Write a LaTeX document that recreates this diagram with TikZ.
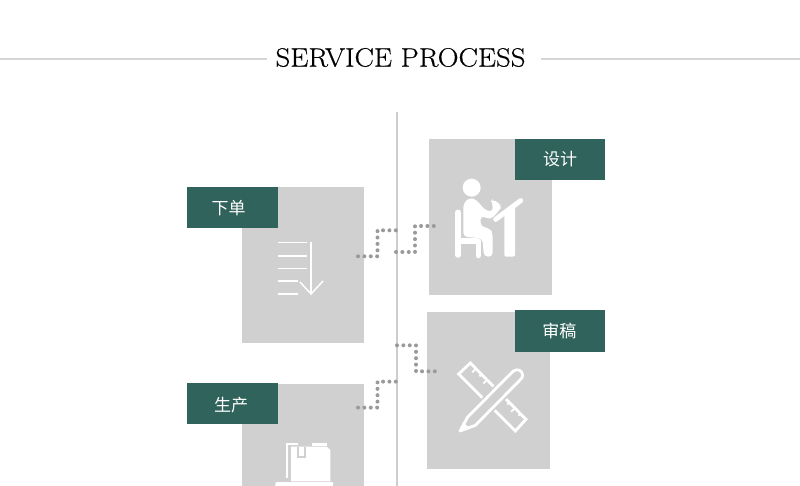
\documentclass[tikz,border=0pt]{standalone}
\usepackage{fontspec}
\usetikzlibrary{calc}
\newfontfamily\cjk{Noto Sans CJK SC}
\newfontfamily\titlefont[FakeBold=0.45,FakeStretch=1.09]{Latin Modern Roman}
\definecolor{panel}{HTML}{D0D0D0}
\definecolor{tagc}{HTML}{2F635B}
\definecolor{rulec}{HTML}{D6D6D6}
\definecolor{vrule}{HTML}{CDCDCD}
\definecolor{dotc}{HTML}{9A9A9A}
\tikzset{
  x=1pt,y=-1pt,
  panelbox/.style={fill=panel,draw=none,inner sep=0pt,anchor=north west},
  tagbox/.style={fill=tagc,draw=none,inner sep=0pt,anchor=center,text=white,minimum width=91pt,text height=13pt,text depth=0pt,font=\cjk\fontsize{17}{17}\selectfont},
  dotline/.style={draw=dotc,line width=4pt,line cap=round,dash pattern=on 0pt off 6.38pt},
  rulekey/.style={draw=rulec,line width=2pt},
}
\begin{document}
\begin{tikzpicture}
\useasboundingbox (0,0) rectangle (800,486);
\clip (0,0) rectangle (800,486);
\fill[white] (0,0) rectangle (800,486);
% title
\node[inner sep=0pt,font=\titlefont\fontsize{26.5}{26.5}\selectfont] (title) at (400.5,57.5) {SERVICE PROCESS};
\coordinate (ll) at (0,59); \coordinate (lr) at (267,59);
\coordinate (rl) at (541,59); \coordinate (rr) at (800,59);
\draw[rulekey] (ll) -- (lr);
\draw[rulekey] (rl) -- (rr);
% axis
\coordinate (vt) at (397,112); \coordinate (vb) at (397,486);
\draw[draw=vrule,line width=2pt] (vt) -- (vb);
% panels
\node[panelbox,minimum width=122pt,minimum height=156pt] (pa) at (242,187) {};
\node[panelbox,minimum width=123pt,minimum height=156pt] (pb) at (429,139) {};
\node[panelbox,minimum width=123pt,minimum height=157pt] (pc) at (427,312) {};
\node[panelbox,minimum width=122pt,minimum height=156pt] (pd) at (242,384) {};
% tags
\node[tagbox,minimum height=41pt] (ta) at (232.5,207.5) {\hspace*{-8pt}\raisebox{-0.5pt}{下单}};
\node[tagbox,minimum height=41pt,minimum width=90pt] (tb) at (560,159.5) {设计};
\node[tagbox,minimum height=42pt,minimum width=90pt] (tc) at (560,331) {\hspace*{-1.5pt}审稿};
\node[tagbox,minimum height=41pt] (td) at (232.5,403.5) {\hspace*{-3pt}\raisebox{-1.5pt}{生产}};
% connectors
\coordinate (c1a) at (358,256.3); \coordinate (c1b) at (377.5,256.3); \coordinate (c1c) at (377.5,230.3); \coordinate (c1d) at (397,230.3);
\coordinate (c2a) at (396,252); \coordinate (c2b) at (415,252); \coordinate (c2c) at (415,226); \coordinate (c2d) at (434,226);
\coordinate (c3a) at (397,345.3); \coordinate (c3b) at (416,345.3); \coordinate (c3c) at (416,371.3); \coordinate (c3d) at (435,371.3);
\coordinate (c4a) at (358,407.6); \coordinate (c4b) at (377.5,407.6); \coordinate (c4c) at (377.5,381.6); \coordinate (c4d) at (397,381.6);
\draw[dotline] (c1a) -- (c1b) -- (c1c) -- (c1d);
\draw[dotline] (c2a) -- (c2b) -- (c2c) -- (c2d);
\draw[dotline] (c3a) -- (c3b) -- (c3c) -- (c3d);
\draw[dotline] (c4a) -- (c4b) -- (c4c) -- (c4d);
% icon: list with arrow
\begin{scope}[draw=white,line width=1.8pt]
\draw (278,242.5) -- (307,242.5);
\draw (278,255.7) -- (307,255.7);
\draw (278,268.5) -- (307,268.5);
\draw (278,281) -- (298,281);
\draw (278,294) -- (298,294);
\draw[line width=1.5pt] (311,242) -- (311,294);
\draw[line width=1.5pt] (300,282) -- (311,294) -- (323,281);
\end{scope}
% icon: person at desk
\begin{scope}[shift={(450,175)},x=0.3333pt,y=-0.3333pt]
\fill[white] (65,38) circle[radius=27];
\fill[white,rounded corners=4pt] (40,85) -- (60,67) -- (80,75) -- (102,102) -- (122,112) -- (132,100) -- (122,80) -- (128,72) -- (145,84) -- (155,92) -- (150,104) -- (122,134) -- (92,122) -- (92,155) -- (120,160) -- (128,175) -- (128,245) -- (102,245) -- (97,190) -- (40,185) -- cycle;
\draw[white,line width=5.6pt,line cap=round] (24,112) -- (24,240);
\draw[white,line width=5.4pt] (24,198) -- (85,198);
\draw[white,line width=5.2pt,line cap=round] (85,198) -- (85,242);
\draw[white,line width=5pt,line cap=round] (137,133) -- (212,77);
\fill[white,rounded corners=2pt] (163,118) -- (195,95) -- (195,245) -- (163,245) -- cycle;
\end{scope}
% icon: ruler and pencil
\begin{scope}[shift={(452,362)},x=0.3333pt,y=-0.3333pt]
\draw[white,line width=2.8pt] (20,36) -- (55,3) -- (222,172) -- (190,207) -- cycle;
\foreach \t/\l in {0.1/1,0.2/0,0.3/1,0.7/0,0.8/1,0.9/0}{
  \draw[white,line width=1.8pt] ($(55,3)!\t!(222,172)$) -- ++(-6-5*\l,6+5*\l);
}
\fill[panel] (20,178) -- (185,13) -- (225,48) -- (60,213) -- cycle;
\draw[white,line width=2.8pt,line join=round] (47,165) -- (183,28) .. controls (195,18) and (212,25) .. (212,40) .. controls (212,45) and (210,48) .. (206,52) -- (70,190) -- (24,207) -- cycle;
\fill[white] (22,209) -- (33,180) -- (52,198) -- cycle;
\end{scope}
% icon: book and laptop
\begin{scope}[shift={(265,436)},x=0.3333pt,y=-0.3333pt]
\fill[white] (78,32) -- (185,32) -- (196,42) -- (196,136) -- (78,136) -- cycle;
\draw[white,line width=2.4pt] (66,125) -- (66,24) -- (100,24);
\draw[white,line width=2.4pt] (140,26) -- (185,26);
\fill[panel] (96,32) rectangle (102,65);
\fill[panel] (102,60) rectangle (122,66);
\fill[panel] (118,32) rectangle (124,66);
\fill[panel] (70,125) rectangle (78,136);
\draw[white,line width=3.2pt,line cap=round] (36,144) -- (200,144);
\fill[white] (30,148) rectangle (205,170);
\end{scope}
\end{tikzpicture}
\end{document}
